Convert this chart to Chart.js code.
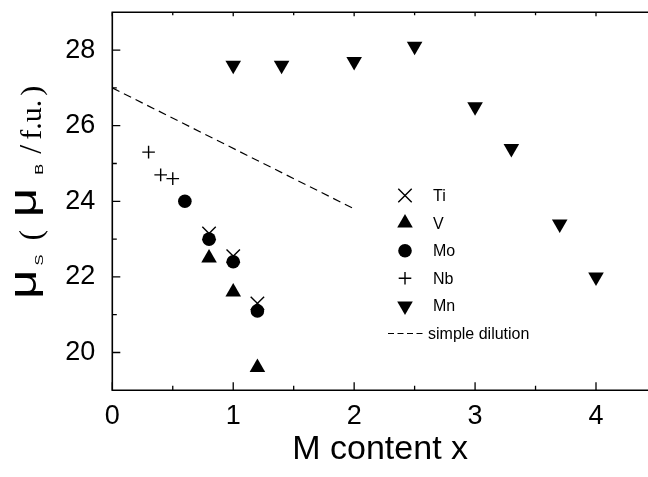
<!DOCTYPE html>
<html>
<head>
<meta charset="utf-8">
<script src="https://cdn.jsdelivr.net/npm/chart.js@4/dist/chart.umd.min.js"></script>
<style>
  html, body { margin: 0; padding: 0; background: #fff; overflow: hidden; }
  canvas { display: block; }
</style>
</head>
<body>
<canvas id="c" width="648" height="477"></canvas>
<script>
// Saturation moment per formula unit vs. substituent content x
const tiX = [0.8, 1.0, 1.2];
const tiY = [23.15, 22.55, 21.3];
const vX = [0.8, 1.0, 1.2];
const vY = [22.5, 21.6, 19.6];
const moX = [0.6, 0.8, 1.0, 1.2];
const moY = [24.0, 23.0, 22.4, 21.1];
const nbX = [0.3, 0.4, 0.5];
const nbY = [25.3, 24.7, 24.6];
const mnX = [1.0, 1.4, 2.0, 2.5, 3.0, 3.3, 3.7, 4.0];
const mnY = [27.6, 27.6, 27.7, 28.1, 26.5, 25.4, 23.4, 22.0];
const dilutionX = [0, 2];
const dilutionY = [27.0, 23.8];

const xTicks = [0, 1, 2, 3, 4];
const yTicks = [20, 22, 24, 26, 28];
const xRange = [0, 4.43];
const yRange = [19, 29];

const legendLabels = ['Ti', 'V', 'Mo', 'Nb', 'Mn', 'simple dilution'];

const pts = (xs, ys) => xs.map((x, i) => ({ x, y: ys[i] }));
const SANS = '"Liberation Sans", Arial, sans-serif';
const SERIF = '"Liberation Serif", "Times New Roman", serif';

const markerStyles = {
  Ti: { pointStyle: 'crossRot', radius: 9.5, rotation: 0, borderWidth: 1.4 },
  V:  { pointStyle: 'triangle', radius: 9, rotation: 0, borderWidth: 0 },
  Mo: { pointStyle: 'circle', radius: 6.8, rotation: 0, borderWidth: 0 },
  Nb: { pointStyle: 'cross', radius: 6.3, rotation: 0, borderWidth: 1.4 },
  Mn: { pointStyle: 'triangle', radius: 9, rotation: 180, borderWidth: 0 }
};

function markerDataset(label, data, order) {
  const m = markerStyles[label];
  return {
    label, data, order,
    showLine: false,
    pointStyle: m.pointStyle,
    pointRadius: m.radius,
    pointRotation: m.rotation,
    pointBorderWidth: m.borderWidth,
    pointBackgroundColor: '#000',
    pointBorderColor: '#000'
  };
}

// Axis frame with inward ticks, open on the right side
const framePlugin = {
  id: 'frame',
  afterDraw(chart) {
    const { ctx, chartArea: a, scales: { x, y } } = chart;
    ctx.save();
    ctx.strokeStyle = '#000';
    ctx.lineWidth = 1.6;
    ctx.lineCap = 'butt';
    ctx.beginPath();
    ctx.moveTo(chart.width, a.top); ctx.lineTo(a.left, a.top);
    ctx.lineTo(a.left, a.bottom); ctx.lineTo(chart.width, a.bottom);
    ctx.stroke();
    ctx.lineWidth = 1.3;
    ctx.beginPath();
    for (let v = 0; v <= xRange[1] + 1e-9; v += 0.5) {
      const px = x.getPixelForValue(v);
      const major = Math.abs(v - Math.round(v)) < 1e-9;
      ctx.moveTo(px, a.bottom); ctx.lineTo(px, a.bottom - (major ? 8 : 4.5));
      ctx.moveTo(px, a.top); ctx.lineTo(px, a.top + (major ? 4 : 3));
    }
    for (let v = yRange[0] + 1; v < yRange[1]; v += 1) {
      const py = y.getPixelForValue(v);
      const major = v % 2 === 0;
      ctx.moveTo(a.left, py); ctx.lineTo(a.left + (major ? 8 : 4.5), py);
    }
    ctx.stroke();
    ctx.restore();
  }
};

// Legend inside the plot
const legendPlugin = {
  id: 'insideLegend',
  afterDraw(chart) {
    const { ctx } = chart;
    const symX = 405, textX = 433, top = 195.5, step = 27.6;
    ctx.save();
    ctx.fillStyle = '#000';
    ctx.strokeStyle = '#000';
    ctx.font = '16px ' + SANS;
    ctx.textBaseline = 'middle';
    ctx.textAlign = 'left';
    legendLabels.forEach((lab, i) => {
      const yy = top + step * i;
      const m = markerStyles[lab];
      if (m) {
        ctx.lineWidth = m.borderWidth || 1;
        Chart.helpers.drawPoint(ctx, m, symX, yy);
        ctx.fillText(lab, textX, yy + 1);
      } else {
        ctx.setLineDash([6, 3.5]);
        ctx.lineWidth = 1.2;
        ctx.beginPath();
        ctx.moveTo(388, yy); ctx.lineTo(423, yy);
        ctx.stroke();
        ctx.setLineDash([]);
        ctx.fillText(lab, 428, yy + 1);
      }
    });
    ctx.restore();
  }
};

// Rotated y-axis title with subscripts: μS ( μB / f.u. )
const yTitlePlugin = {
  id: 'yTitle',
  afterDraw(chart) {
    const { ctx } = chart;
    const parts = [
      { t: '\u03BC', f: '38px ' + SANS, sx: 1.35, dy: -5, gap: 0 },
      { t: 'S', f: '11px ' + SANS, sx: 1.5, dy: 2, gap: 4 },
      { t: '(', f: '32px ' + SERIF, sx: 1, dy: 0, gap: 14 },
      { t: '\u03BC', f: '38px ' + SANS, sx: 1.35, dy: -5, gap: 12.5 },
      { t: 'B', f: '11px ' + SANS, sx: 1.5, dy: 2, gap: 13 },
      { t: '/', f: '32px ' + SERIF, sx: 1, dy: 0, gap: 10 },
      { t: 'f.u.', f: '30px ' + SERIF, sx: 1, dy: 0, gap: 5 },
      { t: ')', f: '30px ' + SERIF, sx: 1, dy: 0, gap: 4 }
    ];
    ctx.save();
    ctx.fillStyle = '#000';
    ctx.textBaseline = 'alphabetic';
    ctx.textAlign = 'left';
    ctx.translate(41, 296);
    ctx.rotate(-Math.PI / 2);
    let u = -3;
    parts.forEach(p => {
      u += p.gap;
      ctx.font = p.f;
      const w = ctx.measureText(p.t).width * p.sx;
      ctx.save();
      ctx.translate(u, p.dy);
      ctx.scale(p.sx, 1);
      ctx.fillText(p.t, 0, 0);
      ctx.restore();
      u += w;
    });
    ctx.restore();
  }
};

new Chart(document.getElementById('c'), {
  type: 'scatter',
  data: {
    datasets: [
      markerDataset('Mo', pts(moX, moY), 1),
      markerDataset('Ti', pts(tiX, tiY), 2),
      markerDataset('V', pts(vX, vY), 3),
      markerDataset('Nb', pts(nbX, nbY), 4),
      markerDataset('Mn', pts(mnX, mnY), 5),
      {
        label: 'simple dilution',
        data: pts(dilutionX, dilutionY),
        order: 6,
        showLine: true,
        borderColor: '#000',
        borderWidth: 1.2,
        borderDash: [8, 5],
        pointRadius: 0,
        fill: false
      }
    ]
  },
  options: {
    responsive: false,
    animation: false,
    clip: false,
    layout: { autoPadding: false, padding: { top: 12.3, right: 0, left: 0, bottom: 0 } },
    plugins: { legend: { display: false }, tooltip: { enabled: false } },
    scales: {
      x: {
        type: 'linear',
        min: xRange[0], max: xRange[1],
        grid: { display: false },
        border: { display: false },
        afterBuildTicks: s => { s.ticks = xTicks.map(v => ({ value: v })); },
        afterFit: s => { s.height = 477 - 390.3; s.paddingLeft = 0; s.paddingRight = 0; },
        ticks: { color: '#000', padding: 2.5, font: { family: SANS, size: 27 }, maxRotation: 0 },
        title: { display: true, text: 'M content x', color: '#000', font: { family: SANS, size: 34 }, padding: { top: 0, bottom: 7 } }
      },
      y: {
        type: 'linear',
        min: yRange[0], max: yRange[1],
        grid: { display: false },
        border: { display: false },
        afterBuildTicks: s => { s.ticks = yTicks.map(v => ({ value: v })); },
        afterFit: s => { s.width = 112.3; s.paddingTop = 0; s.paddingBottom = 0; },
        ticks: { color: '#000', padding: 9, font: { family: SANS, size: 27 } }
      }
    }
  },
  plugins: [framePlugin, legendPlugin, yTitlePlugin]
});
</script>
</body>
</html>
